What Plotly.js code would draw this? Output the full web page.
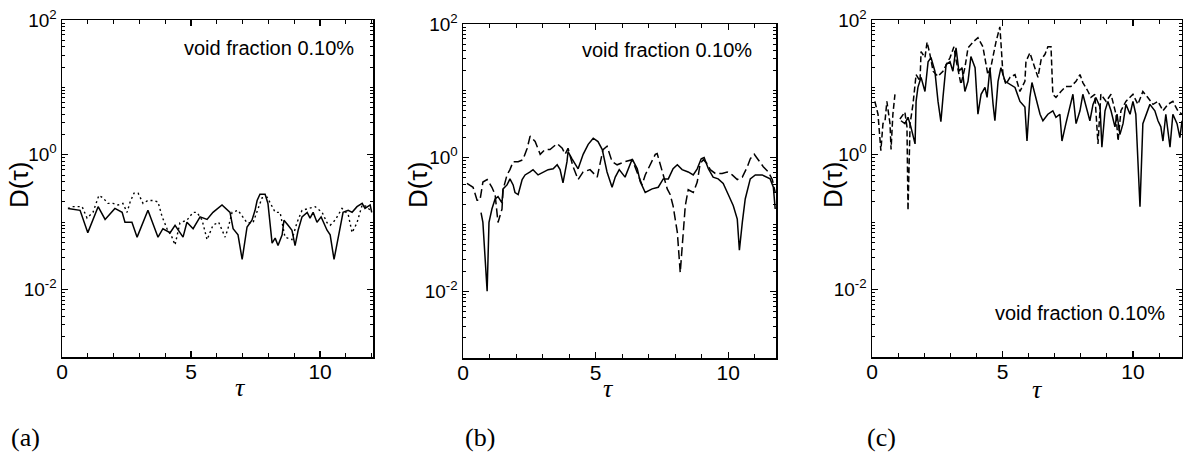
<!DOCTYPE html>
<html>
<head>
<meta charset="utf-8">
<script src="https://cdn.plot.ly/plotly-3.0.1.min.js"></script>
<style>html,body{margin:0;padding:0;background:#fff;}#chart{width:1183px;height:463px;}</style>
</head>
<body>
<div id="chart"></div>
<script>
// ---------- Panel (a) ----------
const tauA_solid = [0.23,0.70,1.0,1.40,1.67,2.05,2.33,2.44,2.71,2.91,3.33,3.72,3.91,4.19,4.38,4.69,4.84,5.08,5.35,5.62,5.85,6.09,6.20,6.51,6.63,6.82,6.98,7.17,7.36,7.48,7.56,7.67,7.87,7.98,8.14,8.26,8.37,8.53,8.60,8.76,8.91,9.03,9.15,9.30,9.50,9.61,9.73,9.88,10.04,10.27,10.39,10.54,10.70,10.89,11.09,11.24,11.43,11.63,11.74,11.94,12.0];
const dA_solid   = [0.16,0.15,0.07,0.17,0.11,0.16,0.14,0.10,0.10,0.06,0.15,0.06,0.08,0.07,0.09,0.06,0.10,0.08,0.12,0.11,0.14,0.17,0.18,0.14,0.08,0.065,0.028,0.085,0.107,0.15,0.21,0.26,0.26,0.19,0.049,0.058,0.045,0.065,0.107,0.09,0.076,0.045,0.076,0.12,0.14,0.115,0.14,0.10,0.12,0.076,0.065,0.028,0.06,0.14,0.15,0.14,0.17,0.19,0.16,0.18,0.14];
const tauA_dot = [0.23,0.43,0.78,0.97,1.20,1.43,1.59,1.78,1.98,2.17,2.36,2.52,2.64,2.79,2.95,3.14,3.33,3.53,3.72,3.88,4.07,4.26,4.38,4.57,4.84,5.08,5.23,5.43,5.62,5.85,6.07,6.32,6.43,6.59,6.82,7.02,7.17,7.40,7.56,7.75,7.95,8.14,8.26,8.45,8.64,8.91,9.11,9.30,9.53,9.81,10.08,10.27,10.39,10.58,10.85,11.09,11.24,11.43,11.63,11.82,12.0];
const dA_dot   = [0.16,0.17,0.17,0.115,0.14,0.25,0.23,0.19,0.19,0.18,0.19,0.14,0.20,0.27,0.27,0.19,0.21,0.21,0.20,0.12,0.08,0.06,0.046,0.098,0.107,0.14,0.14,0.107,0.055,0.09,0.10,0.06,0.08,0.14,0.15,0.115,0.098,0.098,0.15,0.23,0.235,0.17,0.14,0.14,0.06,0.055,0.10,0.15,0.16,0.17,0.14,0.098,0.09,0.107,0.16,0.13,0.07,0.098,0.18,0.17,0.14];

// ---------- Panel (b) ----------
const tauB_solid = [0.68,0.75,0.91,0.98,1.09,1.21,1.32,1.47,1.51,1.66,1.77,1.89,1.96,2.08,2.23,2.34,2.53,2.64,2.83,3.02,3.21,3.40,3.55,3.66,3.77,3.92,3.96,4.11,4.23,4.34,4.53,4.72,4.91,5.09,5.25,5.43,5.62,5.74,5.89,6.11,6.38,6.57,6.68,6.87,7.13,7.36,7.55,7.74,7.92,8.08,8.26,8.49,8.68,8.83,8.98,9.09,9.25,9.43,9.62,9.81,10.0,10.19,10.34,10.42,10.53,10.64,10.83,11.02,11.28,11.47,11.58,11.70,11.77];
const dB_solid   = [0.15,0.107,0.01,0.107,0.17,0.24,0.26,0.21,0.34,0.39,0.48,0.39,0.30,0.28,0.47,0.55,0.61,0.66,0.55,0.61,0.66,0.68,0.78,0.66,0.42,0.87,1.23,0.96,0.78,0.68,1.12,1.58,1.95,1.74,1.32,0.61,0.36,0.51,0.66,0.51,0.95,0.68,0.44,0.30,0.34,0.36,0.48,0.48,0.68,0.78,0.66,0.61,0.55,0.68,0.96,1.0,0.68,0.51,0.48,0.41,0.28,0.19,0.12,0.041,0.107,0.24,0.48,0.55,0.55,0.51,0.48,0.36,0.17];
const tauB_dash = [0.15,0.38,0.53,0.64,0.75,0.91,1.09,1.21,1.32,1.47,1.51,1.66,1.77,1.89,2.08,2.26,2.42,2.53,2.72,2.91,3.09,3.28,3.55,3.74,3.85,3.96,4.15,4.34,4.53,4.79,5.06,5.28,5.43,5.62,5.81,6.11,6.38,6.57,6.75,6.87,7.06,7.25,7.32,7.43,7.55,7.70,7.81,7.92,8.08,8.19,8.26,8.38,8.49,8.68,8.83,8.94,9.06,9.21,9.32,9.51,9.77,9.96,10.15,10.34,10.53,10.72,10.83,10.98,11.13,11.32,11.51,11.66,11.77];
const dB_dash   = [0.41,0.36,0.23,0.23,0.43,0.47,0.36,0.28,0.107,0.17,0.33,0.55,0.66,0.87,0.87,0.93,1.38,2.1,1.74,1.12,1.32,1.32,1.62,1.38,1.12,1.38,0.73,0.47,0.61,0.66,0.51,1.32,1.48,0.87,0.78,0.87,0.93,0.61,0.39,0.55,0.78,1.12,1.15,0.78,0.55,0.34,0.28,0.19,0.076,0.019,0.048,0.19,0.33,0.30,0.43,0.81,0.93,0.81,0.66,0.58,0.58,0.61,0.55,0.47,0.51,0.73,0.96,1.12,0.93,0.73,0.61,0.47,0.30];

// ---------- Panel (c) ----------
const tauC_solid = [1.11,1.26,1.38,1.49,1.65,1.69,1.76,1.88,2.03,2.15,2.26,2.41,2.53,2.64,2.72,2.84,2.99,3.10,3.22,3.33,3.45,3.56,3.68,3.79,3.95,4.06,4.18,4.33,4.41,4.52,4.64,4.71,4.83,4.94,5.10,5.29,5.48,5.67,5.86,5.94,6.05,6.13,6.28,6.44,6.55,6.74,6.93,7.05,7.20,7.28,7.43,7.59,7.70,7.82,7.97,8.08,8.20,8.35,8.47,8.58,8.74,8.81,8.93,9.04,9.16,9.31,9.39,9.50,9.62,9.73,9.89,10.0,10.11,10.27,10.38,10.50,10.65,10.84,10.96,11.07,11.15,11.26,11.42,11.53,11.69,11.80,11.88];
const dC_solid   = [3.2,2.9,3.6,2.6,1.45,6.2,10,14.1,8.7,24,27.7,17.4,6.2,3.1,7.1,21.9,24,17.4,38.6,17.4,19.6,8.7,12.3,28.7,19.6,4.0,7.9,10,7.1,19.6,5.6,3.2,12.3,19.6,12.3,11.1,10,6.2,5.1,1.6,7.1,11.8,7.1,4.0,3.2,4.0,4.5,3.6,4.0,1.6,2.9,5.6,7.9,2.9,4.5,7.9,5.1,3.2,5.6,7.1,5.1,1.3,4.5,6.2,4.5,2.6,4.0,2.0,2.9,5.6,4.0,6.2,4.0,0.17,2.9,4.0,5.6,4.5,3.2,2.6,1.6,4.0,1.3,4.0,2.9,1.8,3.2];
const tauC_dash = [0.11,0.23,0.34,0.42,0.50,0.57,0.69,0.73,0.80,0.88,0.97,1.07,1.26,1.34,1.38,1.46,1.57,1.69,1.84,1.88,2.03,2.11,2.22,2.34,2.53,2.72,2.84,2.99,3.14,3.22,3.41,3.56,3.68,3.87,4.06,4.25,4.44,4.56,4.75,4.90,4.94,5.02,5.13,5.29,5.48,5.67,5.86,5.90,6.05,6.25,6.36,6.48,6.63,6.74,6.86,6.93,7.05,7.24,7.43,7.62,7.82,7.97,8.08,8.28,8.39,8.54,8.66,8.77,8.97,9.16,9.35,9.43,9.54,9.73,10.0,10.19,10.38,10.57,10.77,10.96,11.15,11.34,11.53,11.72,11.88];
const dC_dash   = [6.2,4.0,1.15,2.9,3.2,6.2,2.9,1.2,4.0,7.9,null,3.4,4.3,2.6,0.15,2.9,5.6,15.5,12.3,34,27.7,47,31,17.4,14.6,17.4,21.9,27.7,40,25.7,11.1,19.6,38.6,47,54.6,40,15.5,20.4,47,79,47,15.5,11.1,14.1,15.5,8.7,12.3,24.1,32.6,19.6,14.1,25.7,31,40,40,7.9,7.1,8.7,10.3,10.3,12.3,15.5,11.8,8.7,7.1,7.9,1.45,7.9,6.2,7.9,4.0,1.6,4.5,6.2,7.9,5.6,8.7,7.1,5.6,6.2,4.5,5.6,6.2,4.5,4.0];

// ---------- Tick labels / texts ----------
const xTickVals = [0, 5, 10];
const xTickText = ['0', '5', '10'];
const yTickVals = [0.01, 1, 100];
const yTickText = ['10<sup>-2</sup>', '10<sup>0</sup>', '10<sup>2</sup>'];
const yUnlabeledDecades = [0.001, 0.1, 10];
const panelLabels = ['(a)', '(b)', '(c)'];
const noteText = 'void fraction 0.10%';
const yTitle = 'D(τ)';
const xTitle = 'τ';

const W = 1183, H = 463;
const px = x => x / W;
const py = y => 1 - y / H;

// minor tick positions on the log axis (2..9 per decade, plus unlabeled decades)
const yMinor = yUnlabeledDecades.slice();
for (let e = -3; e < 2; e++) for (let m = 2; m <= 9; m++) yMinor.push(m * Math.pow(10, e));

const line = {color: 'black', width: 1.5};
const traces = [
  {x: tauA_solid, y: dA_solid, xaxis: 'x', yaxis: 'y', mode: 'lines', line: {...line}},
  {x: tauA_dot, y: dA_dot, xaxis: 'x', yaxis: 'y', mode: 'lines', line: {...line, width: 1.4, dash: '2px,3px'}},
  {x: tauB_solid, y: dB_solid, xaxis: 'x2', yaxis: 'y2', mode: 'lines', line: {...line}},
  {x: tauB_dash, y: dB_dash, xaxis: 'x2', yaxis: 'y2', mode: 'lines', line: {...line, dash: '9px,4px'}},
  {x: tauC_solid, y: dC_solid, xaxis: 'x3', yaxis: 'y3', mode: 'lines', line: {...line}},
  {x: tauC_dash, y: dC_dash, xaxis: 'x3', yaxis: 'y3', mode: 'lines', connectgaps: false, line: {...line, dash: '6px,3px'}}
];

const sans = 'Liberation Sans, Arial, sans-serif';
const xFont = {family: sans, size: 21, color: 'black'};
const yFont = {family: sans, size: 19, color: 'black'};
function xAx(domain, range, anchor) {
  return {domain, range, anchor, showline: true, linecolor: 'black', linewidth: 1.5, mirror: 'ticks',
    ticks: 'inside', ticklen: 6, tickwidth: 1.2, tickcolor: 'black', tickmode: 'array',
    tickvals: xTickVals, ticktext: xTickText, tickfont: xFont, ticklabelstandoff: -5, showgrid: false, zeroline: false,
    minor: {tickmode: 'linear', tick0: 0, dtick: 1, ticks: 'inside', ticklen: 4, tickwidth: 1, tickcolor: 'black', showgrid: false}};
}
function yAx(domain, anchor) {
  return {domain, anchor, type: 'log', range: [-3, 2], showline: true, linecolor: 'black', linewidth: 1.5, mirror: 'ticks',
    ticks: 'inside', ticklen: 6, tickwidth: 1.2, tickcolor: 'black', tickmode: 'array',
    tickvals: yTickVals, ticktext: yTickText, tickfont: yFont, showgrid: false, zeroline: false,
    minor: {tickmode: 'array', tickvals: yMinor, ticks: 'inside', ticklen: 3, tickwidth: 1, tickcolor: 'black', showgrid: false}};
}

const serif = {family: 'Liberation Serif, DejaVu Serif, serif', color: 'black'};
const ann = [];
function addText(x, y, text, f, extra) {
  ann.push(Object.assign({xref: 'paper', yref: 'paper', x: px(x), y: py(y), text, showarrow: false,
    font: f, xanchor: 'center', yanchor: 'middle'}, extra || {}));
}
// y-axis titles
[19, 418, 833].forEach(x => addText(x, 185, yTitle, {family: sans, size: 26, color: 'black'}, {textangle: -90}));
// x-axis titles
[[240, 387], [608, 388], [1037, 389]].forEach(p => addText(p[0], p[1], '<i>' + xTitle + '</i>', {...serif, size: 26}));
// panel labels
[[25, 437], [480, 437], [881, 437]].forEach((p, i) => addText(p[0], p[1], panelLabels[i], {...serif, size: 26}));
// notes
[[182, 48], [580, 50], [993, 313]].forEach(p => addText(p[0], p[1], noteText, {family: sans, size: 20, color: 'black'}, {xanchor: 'left'}));

const layout = {
  width: W, height: H, margin: {l: 0, r: 0, t: 0, b: 0},
  paper_bgcolor: 'white', plot_bgcolor: 'white', showlegend: false,
  xaxis: xAx([px(62), px(373)], [0, 12.05], 'y'),
  yaxis: yAx([py(357), py(20)], 'x'),
  xaxis2: xAx([px(463), px(776)], [0, 11.8], 'y2'),
  yaxis2: yAx([py(358), py(24)], 'x2'),
  xaxis3: xAx([px(872), px(1182)], [0, 11.88], 'y3'),
  yaxis3: yAx([py(357), py(20)], 'x3'),
  annotations: ann
};

Plotly.newPlot('chart', traces, layout, {staticPlot: true, displayModeBar: false});
</script>
</body>
</html>
